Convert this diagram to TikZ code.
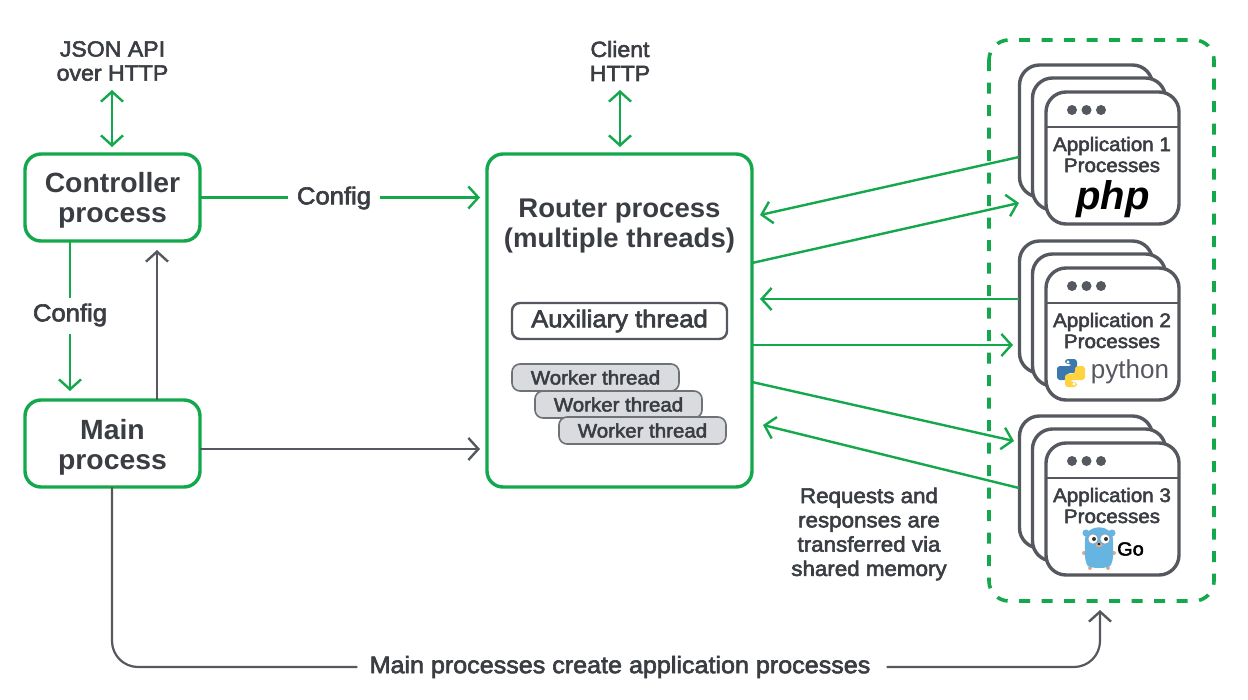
\documentclass[tikz,border=0pt]{standalone}
\usepackage{fontspec}
\usetikzlibrary{arrows.meta,calc}
\setmainfont{Liberation Sans}
\newfontfamily\medf[FakeBold=2.6,FakeStretch=1.05]{Liberation Sans}
\newfontfamily\semif[FakeStretch=1.02]{Liberation Sans Bold}
\newfontfamily\phpf{Liberation Sans}[BoldItalicFont={Liberation Sans Bold Italic}]
\definecolor{gr}{HTML}{12A84B}
\definecolor{gy}{HTML}{55585E}
\definecolor{tx}{HTML}{3A3D42}
\definecolor{wk}{HTML}{DADBDE}
\definecolor{gopher}{HTML}{66B4E2}
\definecolor{gotan}{HTML}{D9A98F}
\definecolor{pyblue}{HTML}{3A78AD}
\definecolor{pyyellow}{HTML}{FFD23F}
\tikzset{
 x=1pt,y=-1pt,
 tip/.style={-{Straight Barb[length=10pt,width=22pt,line width=2.4pt]}},
 tips/.style={{Straight Barb[length=10pt,width=22pt,line width=2.4pt]}-{Straight Barb[length=10pt,width=22pt,line width=2.4pt]}},
 garrow/.style={draw=gr,line width=2.4pt},
 yarrow/.style={draw=gy,line width=2.2pt},
 procbox/.style={draw=gr,line width=3.4pt,fill=white,rounded corners=16pt,inner sep=0pt,outer sep=0pt},
 title/.style={text=tx,align=center,inner sep=0pt,font=\fontsize{27.8}{30}\selectfont\semif},
 lab/.style={text=tx,align=center,inner sep=0pt,font=\fontsize{22}{24}\selectfont\medf},
 note/.style={text=tx,align=center,inner sep=0pt,font=\fontsize{21.3}{24.3}\selectfont\medf},
 auxbox/.style={draw=gy,line width=2.4pt,fill=white,rounded corners=8pt,inner sep=0pt,text=tx,font=\fontsize{24.4}{26}\selectfont\medf},
 wkbox/.style={draw=gy!85,line width=1.6pt,fill=wk,rounded corners=8pt,inner sep=0pt,minimum width=167pt,minimum height=27pt,text=tx,font=\fontsize{19.5}{22}\selectfont\medf},
 card/.style={draw=gy,line width=3.4pt,fill=white,rounded corners=20pt,inner sep=0pt,outer sep=0pt,minimum width=133pt,minimum height=132pt},
 apptext/.style={text=tx,align=center,inner sep=0pt,font=\fontsize{19.6}{21}\selectfont\medf},
}
\newcommand{\appstack}[3]{% name, y-offset, number
 \node[card] (#1c) at (1086,#2+131) {};
 \node[card] (#1b) at (1099,#2+144) {};
 \node[card] (#1a) at (1112.5,#2+158) {};
 \coordinate (#1hl) at (1046,#2+127);
 \coordinate (#1hr) at (1179,#2+127);
 \draw[gy,line width=2.8pt] (#1hl) -- (#1hr);
 \fill[gy] (1072,#2+110) circle (5) (1086.5,#2+110) circle (5) (1101,#2+110) circle (5);
 \node[apptext] (#1t) at (1112,#2+154.5) {Application #3\\Processes};
}
\begin{document}
\begin{tikzpicture}
\useasboundingbox (0,0) rectangle (1248,699);
\fill[white] (0,0) rectangle (1248,699);

% dashed group
\draw[gr,line width=3.6pt,dash pattern=on 11pt off 11.5pt,rounded corners=20pt] (989,40) rectangle (1214,601);

% main boxes
\node[procbox,minimum width=175pt,minimum height=87pt] (ctrl) at (112.5,197.5) {};
\node[title] (ctrlt) at (112.5,200) {Controller\\process};
\node[procbox,minimum width=175pt,minimum height=87pt] (mainp) at (112.5,443.5) {};
\node[title] (maint) at (112.5,447) {Main\\process};
\node[procbox,minimum width=265pt,minimum height=333pt] (router) at (619.5,320.5) {};
\node[title,font=\fontsize{27}{30}\selectfont\semif] (rlabel) at (619.5,226.5) {Router process\\(multiple threads)};

\node[auxbox,minimum width=215pt,minimum height=36pt] (aux) at (619.5,321) {Auxiliary thread};
\node[wkbox] (w1) at (595.5,377.5) {Worker thread};
\node[wkbox] (w2) at (618.5,404.5) {Worker thread};
\node[wkbox] (w3) at (642.5,430.5) {Worker thread};

% application stacks
\appstack{pa}{0}{1}
\appstack{pb}{176}{2}
\appstack{pc}{351}{3}

% php
\node[inner sep=0pt,text=black,font=\fontsize{40}{40}\selectfont\phpf\bfseries\itshape] (php) at (1113,199) {php};

% python logo
\begin{scope}[shift={(1071,373)}]
 \fill[rounded corners=3pt,fill=pyblue] (-6,-14) -- (6,-14) -- (6,0) -- (-4,0) -- (-4,7) -- (-14,7) -- (-14,-7) -- (1,-7) -- (1,-9) -- (-6,-9) -- cycle;
 \fill[rounded corners=3pt,fill=pyyellow] (6,14) -- (-6,14) -- (-6,1) -- (4,1) -- (4,-7) -- (14,-7) -- (14,7) -- (-1,7) -- (-1,9) -- (6,9) -- cycle;
 \fill[white] (-3,-11) circle (1.6) (3,11) circle (1.6);
\end{scope}
\node[inner sep=0pt,text=gy,font=\fontsize{26}{26}\selectfont] (py) at (1130,372) {python};

% gopher
\begin{scope}[shift={(1099,548)}]
 \fill[gopher] (-13,-15) circle (3.5) (13,-15) circle (3.5);
 \fill[gotan] (-15,5) circle (2) (15,5) circle (2) (-9,20) circle (2) (9,20) circle (2);
 \fill[gopher] (-14,-8) .. controls (-14,-25) and (14,-25) .. (14,-8) .. controls (14,5) and (15,10) .. (12,17) .. controls (10,21) and (-10,21) .. (-12,17) .. controls (-15,10) and (-14,5) .. (-14,-8) -- cycle;
 \fill[white,draw=gy!60,line width=.5pt] (-6,-9) circle (5) (6,-9) circle (5);
 \fill[black!80] (-5,-9) circle (2) (7,-9) circle (2);
 \fill[gotan] (0,-3) ellipse (3.5 and 2.2);
 \fill[black] (0,-4) ellipse (1.6 and 1);
\end{scope}
\node[inner sep=0pt,text=black,font=\fontsize{19}{22}\selectfont\medf] (go) at (1130.5,549) {Go};

% labels
\node[lab] (json) at (112.5,61) {JSON API\\over HTTP};
\node[lab] (client) at (620,61) {Client\\HTTP};
\node[lab,font=\fontsize{24.4}{25}\selectfont\medf] (cfgh) at (334,198) {Config};
\node[lab,font=\fontsize{24.4}{25}\selectfont\medf] (cfgv) at (70,315) {Config};
\node[note] (shm) at (869,534) {Requests and\\responses are\\transferred via\\shared memory};
\node[lab,font=\fontsize{23.9}{25}\selectfont\medf] (create) at (620,667) {Main processes create application processes};

% free ends
\coordinate (jsonT) at (112,90);
\coordinate (jsonB) at (112,147);
\coordinate (clientT) at (620,90);
\coordinate (clientB) at (620,147);
\coordinate (rIn1) at (480,197.5);
\coordinate (rIn2) at (480,449);
\coordinate (mainTop) at (70,391);
\coordinate (ctrlBot) at (70,241);
\coordinate (upS) at (157,400);
\coordinate (upE) at (157,250);
\coordinate (a1o) at (1019,157);
\coordinate (a1i) at (760,215);
\coordinate (b1o) at (752,263);
\coordinate (b1i) at (1019,203);
\coordinate (a2o) at (1019,299);
\coordinate (a2i) at (760,299);
\coordinate (b2o) at (752,345);
\coordinate (b2i) at (1013,345);
\coordinate (b3o) at (752,382);
\coordinate (b3i) at (1014,441);
\coordinate (a3o) at (1019,488);
\coordinate (a3i) at (763,425);
\coordinate (mbS) at (112,487);
\coordinate (mbC) at (112,667);
\coordinate (grpC) at (1100,667);
\coordinate (grpE) at (1100,610);
\coordinate (mainR) at (200,449);

% connectors
\draw[garrow,tips] (jsonT) -- (jsonB);
\draw[garrow,tips] (clientT) -- (clientB);
\draw[garrow] (ctrl.east) -- ($(cfgh.west)+(-9,-0.5)$);
\draw[garrow,tip] ($(cfgh.east)+(9,-0.5)$) -- (rIn1);
\draw[garrow] (ctrlBot) -- ($(cfgv.north)+(0,-5)$);
\draw[garrow,tip] ($(cfgv.south)+(0,7)$) -- (mainTop);
\draw[yarrow,tip] (upS) -- (upE);
\draw[yarrow,tip] (mainR) -- (rIn2);
\draw[garrow,tip] (a1o) -- (a1i);
\draw[garrow,tip] (b1o) -- (b1i);
\draw[garrow,tip] (a2o) -- (a2i);
\draw[garrow,tip] (b2o) -- (b2i);
\draw[garrow,tip] (b3o) -- (b3i);
\draw[garrow,tip] (a3o) -- (a3i);
\draw[yarrow,rounded corners=26pt] (mbS) -- (mbC) -- ($(create.west)+(-12,0)$);
\draw[yarrow,tip,rounded corners=26pt] ($(create.east)+(16,0)$) -- (grpC) -- (grpE);
\end{tikzpicture}
\end{document}
